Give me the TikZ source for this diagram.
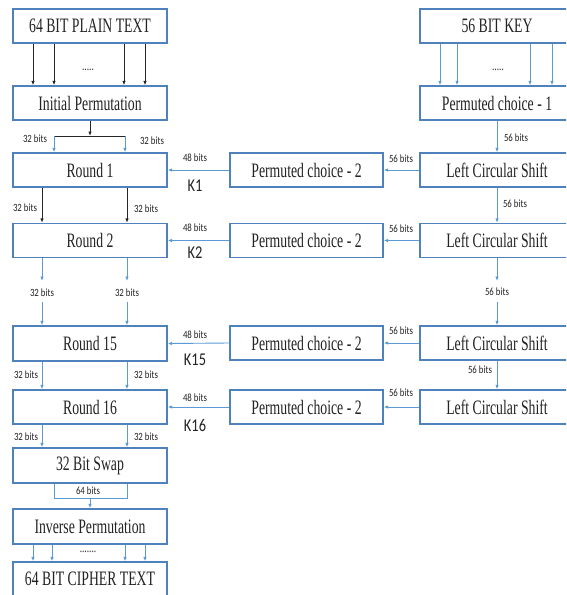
\documentclass[tikz,border=0pt]{standalone}
\usepackage{fontspec}
\usetikzlibrary{arrows.meta}
\newfontfamily\boxfont[FakeStretch=0.67]{Liberation Serif}
\newfontfamily\lblfont[FakeStretch=0.8]{Carlito}
\definecolor{boxblue}{RGB}{79,129,189}
\definecolor{arrblue}{RGB}{91,155,213}
\definecolor{txt}{RGB}{35,35,35}
\begin{document}
\begin{tikzpicture}[x=1pt,y=-1pt,
  box/.style={draw=boxblue, line width=1.3pt, fill=white, minimum width=154pt, minimum height=34pt, inner sep=0pt, text=txt, font=\boxfont\fontsize{20.5}{21}\selectfont},
  lbl/.style={text=txt, inner sep=0pt, font=\lblfont\fontsize{11}{12}\selectfont},
  klbl/.style={text=txt, inner sep=0pt, font=\lblfont\fontsize{18}{18}\selectfont},
  dots/.style={text=txt, inner sep=0pt, font=\boxfont\fontsize{14}{14}\selectfont},
  ab/.style={draw=arrblue, line width=0.9pt, -{Latex[length=4.5pt,width=3.5pt]}},
  ak/.style={draw=black!85, line width=0.9pt, -{Latex[length=4.5pt,width=3.5pt]}},
  lineb/.style={draw=arrblue, line width=0.9pt},
  linek/.style={draw=black!85, line width=0.9pt}]
\clip (0,0) rectangle (566,595);
\fill[white] (0,0) rectangle (566,595);

% left column
\node[box] (plain) at (90,26) {64 BIT PLAIN TEXT};
\node[box] (ip) at (90,103) {Initial Permutation};
\node[box] (r1) at (90,170) {Round 1};
\node[box] (r2) at (90,240.5) {Round 2};
\node[box, minimum height=35pt] (r15) at (90,343.5) {Round 15};
\node[box] (r16) at (90,407) {Round 16};
\node[box, minimum height=35pt] (swap) at (90,465.5) {32 Bit Swap};
\node[box, minimum height=35pt] (inv) at (90,526.5) {Inverse Permutation};
\node[box] (ciph) at (90,579) {64 BIT CIPHER TEXT};

% right column
\node[box] (key) at (497,26) {56 BIT KEY};
\node[box] (pc1) at (497,103) {Permuted choice - 1};
\node[box] (l1) at (497,170) {Left Circular Shift};
\node[box] (l2) at (497,240.5) {Left Circular Shift};
\node[box] (l15) at (497,343) {Left Circular Shift};
\node[box] (l16) at (497,407) {Left Circular Shift};

% middle column
\node[box, minimum width=153pt] (p1) at (306.5,170) {Permuted choice - 2};
\node[box, minimum width=153pt] (p2) at (306.5,240.5) {Permuted choice - 2};
\node[box, minimum width=153pt] (p15) at (306.5,343) {Permuted choice - 2};
\node[box, minimum width=153pt] (p16) at (306.5,407) {Permuted choice - 2};

% plain -> IP
\foreach \dx in {-57,-36,34,55}
  \draw[ak] ([xshift=\dx pt]plain.south) -- ([xshift=\dx pt]ip.north);
\node[dots] (dtop) at (88,70) {.....};

% IP -> Round 1
\coordinate (fork) at (90,136);
\draw[ak] (ip.south) -- (fork);
\draw[linek] ([xshift=-36pt]fork) -- ([xshift=35pt]fork);
\draw[ab] ([xshift=-36pt]fork) -- ([xshift=-36pt]r1.north);
\draw[ab] ([xshift=35pt]fork) -- ([xshift=35pt]r1.north);
\node[lbl] (b1a) at (35,139) {32 bits};
\node[lbl] (b1b) at (152,141) {32 bits};

% Round 1 -> Round 2
\draw[ak] ([xshift=-48pt]r1.south) -- ([xshift=-48pt]r2.north);
\draw[ak] ([xshift=37pt]r1.south) -- ([xshift=37pt]r2.north);
\node[lbl] (b2a) at (25,208) {32 bits};
\node[lbl] (b2b) at (146,209) {32 bits};

% Round 2 -> Round 15
\node[lbl] (b3a) at (42,293) {32 bits};
\node[lbl] (b3b) at (127,293) {32 bits};
\draw[ab] (r2.south -| b3a) -- ([yshift=12pt]b3a.center);
\draw[ab] ([yshift=-9pt]b3a.center) -- (r15.north -| b3a);
\draw[ab] (r2.south -| b3b) -- ([yshift=12pt]b3b.center);
\draw[ab] ([yshift=-9pt]b3b.center) -- (r15.north -| b3b);

% Round 15 -> Round 16
\draw[ab] ([xshift=-48pt]r15.south) -- ([xshift=-48pt]r16.north);
\draw[ab] ([xshift=37pt]r15.south) -- ([xshift=37pt]r16.north);
\node[lbl] (b4a) at (26,375) {32 bits};
\node[lbl] (b4b) at (146,375) {32 bits};

% Round 16 -> Swap
\draw[ab] ([xshift=-48pt]r16.south) -- ([xshift=-48pt]swap.north);
\draw[ab] ([xshift=37pt]r16.south) -- ([xshift=37pt]swap.north);
\node[lbl] (b5a) at (26,437) {32 bits};
\node[lbl] (b5b) at (146,437) {32 bits};

% Swap -> Inverse
\coordinate (brk) at (90,498);
\draw[lineb] ([xshift=-36pt]swap.south) -- ([xshift=-36pt]brk) -- ([xshift=37pt]brk) -- ([xshift=37pt]swap.south);
\draw[ab] (brk) -- (inv.north);
\node[lbl] (b6) at (88,491) {64 bits};

% Inverse -> Cipher
\foreach \dx in {-57,-38,35,55}
  \draw[ab] ([xshift=\dx pt]inv.south) -- ([xshift=\dx pt]ciph.north);
\node[dots] (dbot) at (88,552) {.......};

% key -> PC1
\foreach \dx in {-57,-40,33,55}
  \draw[ab] ([xshift=\dx pt]key.south) -- ([xshift=\dx pt]pc1.north);
\node[dots] (dkey) at (498,70) {.....};

% key schedule chain
\draw[ab] (pc1.south) -- (l1.north);
\node[lbl] (k0) at (516,138) {56 bits};
\draw[ab] (l1.south) -- (l2.north);
\node[lbl] (k1) at (515,204) {56 bits};
\node[lbl] (k2) at (497,292) {56 bits};
\draw[ab] (l2.south) -- ([yshift=11pt]k2.center);
\draw[ab] ([yshift=-10pt]k2.center) -- (l15.north);
\draw[ab] (l15.south) -- (l16.north);
\node[lbl] (k3) at (480,370) {56 bits};

% LCS -> PC2 -> Round
\draw[ab] (l1.west) -- (p1.east);
\draw[ab] (l2.west) -- (p2.east);
\draw[ab] (l15.west) -- (p15.east);
\draw[ab] (l16.west) -- (p16.east);
\node[lbl] (s1) at (401,159) {56 bits};
\node[lbl] (s2) at (401,229) {56 bits};
\node[lbl] (s15) at (401,331) {56 bits};
\node[lbl] (s16) at (401,393) {56 bits};

\draw[ab] (p1.west) -- (r1.east);
\draw[ab] (p2.west) -- (r2.east);
\draw[ab] (p15.west) -- (r15.east);
\draw[ab] (p16.west) -- (r16.east);
\node[lbl] (f1) at (195,158) {48 bits};
\node[lbl] (f2) at (195,228) {48 bits};
\node[lbl] (f15) at (195,335) {48 bits};
\node[lbl] (f16) at (195,398) {48 bits};
\node[klbl] (K1) at (195,186) {K1};
\node[klbl] (K2) at (195,253) {K2};
\node[klbl] (K15) at (195,360) {K15};
\node[klbl] (K16) at (195,425) {K16};
\end{tikzpicture}
\end{document}
